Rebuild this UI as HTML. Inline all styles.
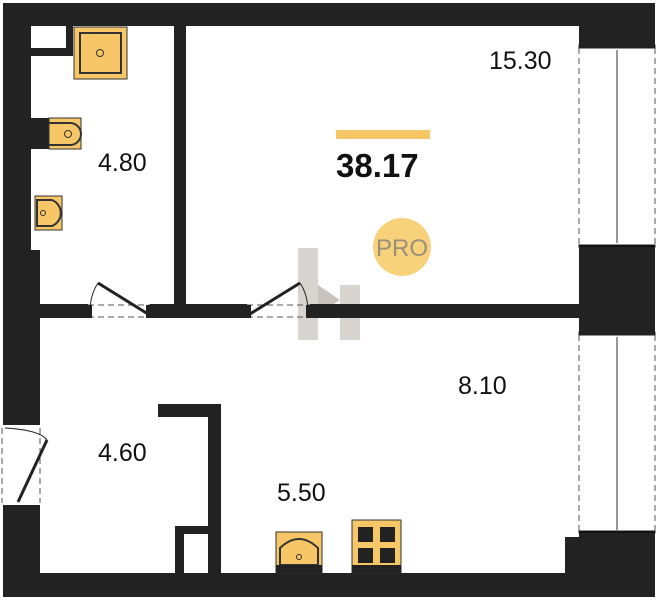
<!DOCTYPE html><html><head><style>body{margin:0;background:#fff}svg{display:block}text{font-family:"Liberation Sans",sans-serif}</style></head><body>
<svg width="657" height="600" viewBox="0 0 657 600" xmlns="http://www.w3.org/2000/svg">
<g fill="#d8d4d0"><polygon points="298,248 318,248 318,340 298,340"/><polygon points="340,285 360,285 360,340 340,340"/><polygon points="318,285 340,300 318,315" fill="#c9c3bd"/></g>
<g fill="#222">
<rect x="3" y="3" width="652" height="23"/>
<rect x="3" y="3" width="28" height="247"/>
<rect x="3" y="250" width="37" height="175"/>
<rect x="3" y="505" width="37" height="92"/>
<rect x="3" y="573" width="652" height="24"/>
<rect x="579" y="3" width="76" height="42"/>
<rect x="579" y="245" width="76" height="87"/>
<rect x="579" y="533" width="76" height="64"/>
<rect x="565" y="537" width="90" height="60"/>
<rect x="174" y="26" width="12" height="278"/>
<rect x="40" y="304" width="48" height="14"/>
<rect x="150" y="304" width="97" height="14"/>
<rect x="310" y="304" width="269" height="14"/>
<rect x="31" y="48" width="41" height="8"/>
<rect x="66" y="26" width="7" height="30"/>
<rect x="158" y="404" width="63" height="13"/>
<rect x="208" y="404" width="13" height="169"/>
<rect x="175" y="526" width="33" height="47"/>
<rect x="31" y="118" width="18" height="31"/>
</g>
<rect x="184" y="534" width="24" height="39" fill="#fff"/>
<g fill="#f6c667" stroke="#333" stroke-width="1">
<rect x="74" y="27" width="53" height="52"/><rect x="80" y="33" width="41" height="40" stroke-width="2"/>
<rect x="49" y="118" width="32" height="31"/>
<rect x="35" y="196" width="27" height="34"/>
<rect x="276" y="532" width="46" height="41"/>
<rect x="352" y="520" width="49" height="53"/>
</g>
<circle cx="100" cy="53" r="3.5" fill="none" stroke="#333"/>
<path d="M49 123 H70 A11 11 0 0 1 70 145 H49" fill="none" stroke="#333" stroke-width="2"/><circle cx="68" cy="134" r="3.5" fill="none" stroke="#333"/>
<path d="M37 200 H52 A14 14 0 0 1 52 226 H37 Z" fill="none" stroke="#333" stroke-width="2"/><circle cx="43" cy="213" r="2.5" fill="none" stroke="#333"/>
<path d="M280 565 V548 Q299 530 318 548 V565 Z" fill="none" stroke="#333" stroke-width="2"/><circle cx="299" cy="557" r="2.5" fill="none" stroke="#333"/>
<rect x="276" y="565" width="46" height="8" fill="#222"/><rect x="352" y="565" width="49" height="8" fill="#222"/>
<g fill="#222"><rect x="358" y="527" width="15" height="15"/><rect x="380" y="527" width="15" height="15"/><rect x="358" y="548" width="15" height="15"/><rect x="380" y="548" width="15" height="15"/></g>
<g stroke="#555" stroke-dasharray="6,4" fill="none">
<line x1="579" y1="48" x2="579" y2="245"/><line x1="655" y1="48" x2="655" y2="245"/>
<line x1="579" y1="335" x2="579" y2="533"/><line x1="655" y1="335" x2="655" y2="533"/>
<line x1="88" y1="305" x2="150" y2="305"/><line x1="88" y1="317" x2="150" y2="317"/>
<line x1="247" y1="305" x2="310" y2="305"/><line x1="247" y1="317" x2="310" y2="317"/>
<line x1="2" y1="428" x2="2" y2="503"/><line x1="40" y1="428" x2="40" y2="503"/>
</g>
<g stroke="#222"><rect x="579" y="45" width="76" height="3" fill="#222"/><rect x="579" y="245" width="76" height="2"/><rect x="579" y="332" width="76" height="3" fill="#222"/><rect x="579" y="531" width="76" height="2"/></g>
<line x1="617" y1="50" x2="617" y2="243" stroke="#333"/><line x1="617" y1="337" x2="617" y2="530" stroke="#333"/>
<g stroke="#222" fill="none">
<line x1="148" y1="314" x2="98" y2="283" stroke-width="3"/><path d="M98 283 Q90 295 90 312" stroke-width="1"/>
<line x1="250" y1="314" x2="300" y2="283" stroke-width="3"/><path d="M300 283 Q308 295 308 312" stroke-width="1"/>
<line x1="18" y1="502" x2="47" y2="440" stroke-width="3"/><path d="M5 428 Q40 430 47 440" stroke-width="1"/>
</g>
<g fill="#222"><rect x="86" y="305" width="6" height="13"/><rect x="146" y="305" width="6" height="13"/><rect x="245" y="305" width="6" height="13"/><rect x="306" y="305" width="6" height="13"/></g>
<rect x="336" y="130" width="94" height="9" fill="#f6c667"/>
<text x="336" y="177" font-size="33" font-weight="bold" fill="#111">38.17</text>
<circle cx="402" cy="247" r="29" fill="#f8d27a"/>
<text x="402" y="256" font-size="24" fill="#9a8f7c" text-anchor="middle">PRO</text>
<g font-size="25" fill="#111">
<text x="98" y="171">4.80</text>
<text x="489" y="69">15.30</text>
<text x="458" y="394">8.10</text>
<text x="98" y="461">4.60</text>
<text x="277" y="501">5.50</text>
</g>
</svg></body></html>
